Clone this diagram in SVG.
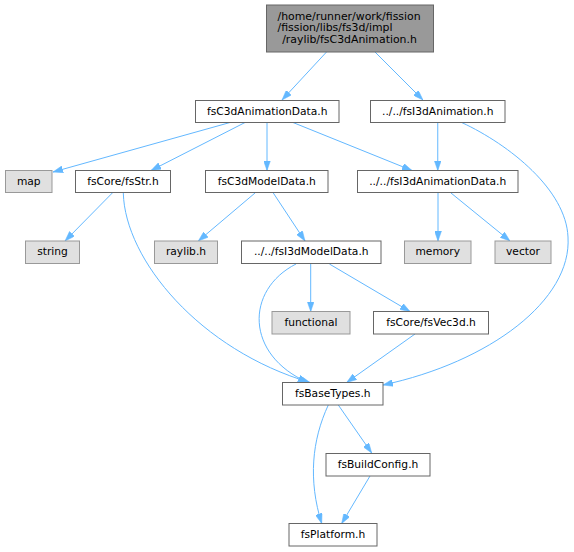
<svg xmlns="http://www.w3.org/2000/svg" width="574" height="552" viewBox="0 0 574 552">
<style>
  rect.n { fill: #ffffff; stroke: #666666; stroke-width: 1; }
  rect.x { fill: #e0e0e0; stroke: #999999; stroke-width: 1; }
  rect.r { fill: #999999; stroke: #666666; stroke-width: 1; }
  text { font-family: "DejaVu Sans", "Liberation Sans", sans-serif; font-size: 10.7px; fill: #000000; text-anchor: middle; }
  text.s { text-anchor: start; }
  text.t { font-size: 10.9px; }
  .e path { fill: none; stroke: #63b8ff; stroke-width: 1; marker-end: url(#arr); }
</style>
<defs>
  <marker id="arr" viewBox="0 0 10 7" refX="10" refY="3.5" markerWidth="10" markerHeight="7" markerUnits="userSpaceOnUse" orient="auto">
    <path d="M0,0 L10,3.5 L0,7 z" fill="#63b8ff" stroke="#63b8ff" stroke-width="0.5"/>
  </marker>
</defs>
<rect width="574" height="552" fill="#ffffff"/>
<g id="edges" class="e">
  <path d="M326.5,52 L282,100"/>
  <path d="M375,52 L423,100"/>
  <path d="M230,122.5 L53,172"/>
  <path d="M245,122.5 L151,170.5"/>
  <path d="M267,122.5 L267,170.5"/>
  <path d="M293,122.5 L412,170.5"/>
  <path d="M437.75,122.5 L437.75,170.5"/>
  <path d="M461.7,122.5 C510,145 566,190 568,237 C572,300 490,362 383,385"/>
  <path d="M112.3,193 L65,241"/>
  <path d="M123.3,193 C125,260 200,350 310,382.5"/>
  <path d="M255,193 L198.3,241"/>
  <path d="M273.3,193 L305,241"/>
  <path d="M438,193 L438,241"/>
  <path d="M451,193 L510,241"/>
  <path d="M296,264 C245,290 245,355 308,382.5"/>
  <path d="M310.7,264 L310.7,311.5"/>
  <path d="M329.4,264 L410,311.5"/>
  <path d="M415,334 L346.7,382.5"/>
  <path d="M338.3,405 L371.7,453"/>
  <path d="M328.3,405 C312,440 308,480 321.7,523.5"/>
  <path d="M370,476 L341.7,523.5"/>
</g>
<g id="root">
  <rect class="r" x="266.5" y="5" width="167" height="47"/>
  <text class="s t" x="277.5" y="19.5">/home/runner/work/fission</text>
  <text class="s t" x="277.5" y="31">/fission/libs/fs3d/impl</text>
  <text class="t" x="349.5" y="42.5">/raylib/fsC3dAnimation.h</text>
</g>
<g id="fsC3dAnimationData">
  <rect class="n" x="195.5" y="100.5" width="143.5" height="22"/>
  <text x="267.25" y="114.5">fsC3dAnimationData.h</text>
</g>
<g id="fsI3dAnimation">
  <rect class="n" x="370.5" y="100.5" width="134.5" height="22"/>
  <text x="437.75" y="114.5">../../fsI3dAnimation.h</text>
</g>
<g id="map">
  <rect class="x" x="5.5" y="170.5" width="46.5" height="22"/>
  <text x="28.75" y="184.5">map</text>
</g>
<g id="fsStr">
  <rect class="n" x="75.5" y="170.5" width="95" height="22"/>
  <text x="123" y="184.5">fsCore/fsStr.h</text>
</g>
<g id="fsC3dModelData">
  <rect class="n" x="205.5" y="170.5" width="122.5" height="22"/>
  <text x="266.75" y="184.5">fsC3dModelData.h</text>
</g>
<g id="fsI3dAnimationData">
  <rect class="n" x="357.5" y="170.5" width="160.5" height="22"/>
  <text x="437.75" y="184.5">../../fsI3dAnimationData.h</text>
</g>
<g id="string">
  <rect class="x" x="25.5" y="241" width="54" height="22.5"/>
  <text x="52.5" y="255">string</text>
</g>
<g id="raylib">
  <rect class="x" x="154.5" y="241" width="63" height="22.5"/>
  <text x="186" y="255">raylib.h</text>
</g>
<g id="fsI3dModelData">
  <rect class="n" x="241.5" y="241" width="139.5" height="22.5"/>
  <text x="311.25" y="255">../../fsI3dModelData.h</text>
</g>
<g id="memory">
  <rect class="x" x="404.5" y="241" width="66.5" height="22.5"/>
  <text x="437.75" y="255">memory</text>
</g>
<g id="vector">
  <rect class="x" x="495" y="241" width="56" height="22.5"/>
  <text x="523" y="255">vector</text>
</g>
<g id="functional">
  <rect class="x" x="272" y="311.5" width="78" height="22.5"/>
  <text x="311" y="325.5">functional</text>
</g>
<g id="fsVec3d">
  <rect class="n" x="373.5" y="311.5" width="115" height="22.5"/>
  <text x="431" y="325.5">fsCore/fsVec3d.h</text>
</g>
<g id="fsBaseTypes">
  <rect class="n" x="282.5" y="382.5" width="100.5" height="22.5"/>
  <text x="332.75" y="396.5">fsBaseTypes.h</text>
</g>
<g id="fsBuildConfig">
  <rect class="n" x="326" y="453.5" width="104" height="22.5"/>
  <text x="378" y="467.5">fsBuildConfig.h</text>
</g>
<g id="fsPlatform">
  <rect class="n" x="289" y="523.5" width="88" height="22.5"/>
  <text x="333" y="537.5">fsPlatform.h</text>
</g>
</svg>
